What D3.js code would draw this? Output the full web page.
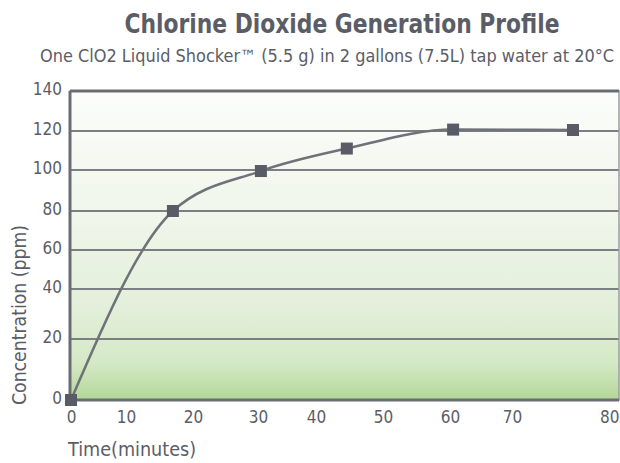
<!DOCTYPE html>
<html><head><meta charset="utf-8">
<script src="https://cdn.jsdelivr.net/npm/d3@7"></script>
<style>
html,body{margin:0;padding:0;background:#fff;}
text{font-family:"Liberation Sans Narrow","DejaVu Sans Condensed","Roboto",sans-serif;fill:#5b5d66;}
</style></head>
<body><svg id="c" width="620" height="463"></svg>
<script>
const title = "Chlorine Dioxide Generation Profile";
const subtitle = "One ClO2 Liquid Shocker\u2122 (5.5 g) in 2 gallons (7.5L) tap water at 20\u00B0C";
const xLabel = "Time(minutes)";
const yLabel = "Concentration (ppm)";
const xTicks = [0,10,20,30,40,50,60,70,80];
const yTicks = [0,20,40,60,80,100,120,140];
const times = [0,17,30.5,44.6,60.5,75.7];
const conc = [0,80,99.5,111,120.7,120.5];

const svg = d3.select("#c");
const L=70,R=619,T=91,B=400;
// axis spacing in the original is irregular; piecewise scales follow the printed tick positions
const x = d3.scaleLinear().domain(xTicks).range([71,126,193,258,316,383,450,512,619]);
const y = d3.scaleLinear().domain(yTicks).range([B,339,289,250,211,170,131,T]);

const defs = svg.append("defs");
const g = defs.append("linearGradient").attr("id","bg").attr("x1",0).attr("x2",0).attr("y1",0).attr("y2",1);
[[0,"#fcfdfb"],[0.4,"#f0f6eb"],[0.7,"#e3efda"],[0.88,"#d4e9c6"],[1,"#b3d797"]].forEach(s=>g.append("stop").attr("offset",s[0]).attr("stop-color",s[1]));

svg.append("rect").attr("x",L).attr("y",T).attr("width",R-L).attr("height",B-T).attr("fill","url(#bg)");

// grid
svg.append("g").selectAll("line").data(yTicks.filter(d=>d>0&&d<140)).join("line")
  .attr("x1",L).attr("x2",R).attr("y1",d=>y(d)).attr("y2",d=>y(d))
  .attr("stroke","#7b7e82").attr("stroke-width",2);

// frame
svg.append("rect").attr("x",L).attr("y",T).attr("width",R-L).attr("height",B-T)
  .attr("fill","none").attr("stroke","#9a9ca0").attr("stroke-width",1.5);
svg.append("line").attr("x1",L).attr("x2",R).attr("y1",T).attr("y2",T).attr("stroke","#6a6c73").attr("stroke-width",3);
svg.append("line").attr("x1",L).attr("x2",R).attr("y1",B).attr("y2",B).attr("stroke","#6a6c73").attr("stroke-width",3);
svg.append("line").attr("x1",L).attr("x2",L).attr("y1",T).attr("y2",B).attr("stroke","#6a6c73").attr("stroke-width",3);

// axes
const xa = svg.append("g").attr("transform",`translate(0,${B})`)
  .call(d3.axisBottom(x).tickValues(xTicks).tickSize(0).tickPadding(11).tickFormat(d3.format("d")));
xa.select(".domain").remove();
xa.selectAll("text").style("font-size","17px").attr("fill","#5b5d66")
  .attr("text-anchor",d=>d===80?"end":"middle");
const ya = svg.append("g").attr("transform",`translate(${L},0)`)
  .call(d3.axisLeft(y).tickValues(yTicks).tickSize(0).tickPadding(8).tickFormat(d3.format("d")));
ya.select(".domain").remove();
ya.selectAll("text").style("font-size","17px").attr("fill","#5b5d66").attr("dy","0.2em");

// line
const line = d3.line().x((d,i)=>x(times[i])).y(d=>y(d)).curve(d3.curveMonotoneX);
svg.append("path").datum(conc).attr("d",line).attr("fill","none").attr("stroke","#6f7279").attr("stroke-width",2.5);
svg.append("g").selectAll("rect").data(conc).join("rect")
  .attr("x",(d,i)=>x(times[i])-6).attr("y",d=>y(d)-6).attr("width",12).attr("height",12).attr("fill","#595b66");

// titles
svg.append("text").attr("x",342).attr("y",33).attr("text-anchor","middle")
  .attr("textLength",435).attr("lengthAdjust","spacingAndGlyphs")
  .style("font-size","27px").style("font-weight","bold").text(title);
svg.append("text").attr("x",327).attr("y",62).attr("text-anchor","middle")
  .attr("textLength",574).attr("lengthAdjust","spacingAndGlyphs")
  .style("font-size","17px").text(subtitle);
svg.append("text").attr("x",68).attr("y",456)
  .attr("textLength",128).attr("lengthAdjust","spacingAndGlyphs")
  .style("font-size","20px").text(xLabel);
svg.append("text").attr("transform","translate(26,315) rotate(-90)").attr("text-anchor","middle")
  .attr("textLength",180).attr("lengthAdjust","spacingAndGlyphs")
  .style("font-size","20px").text(yLabel);
</script></body></html>
